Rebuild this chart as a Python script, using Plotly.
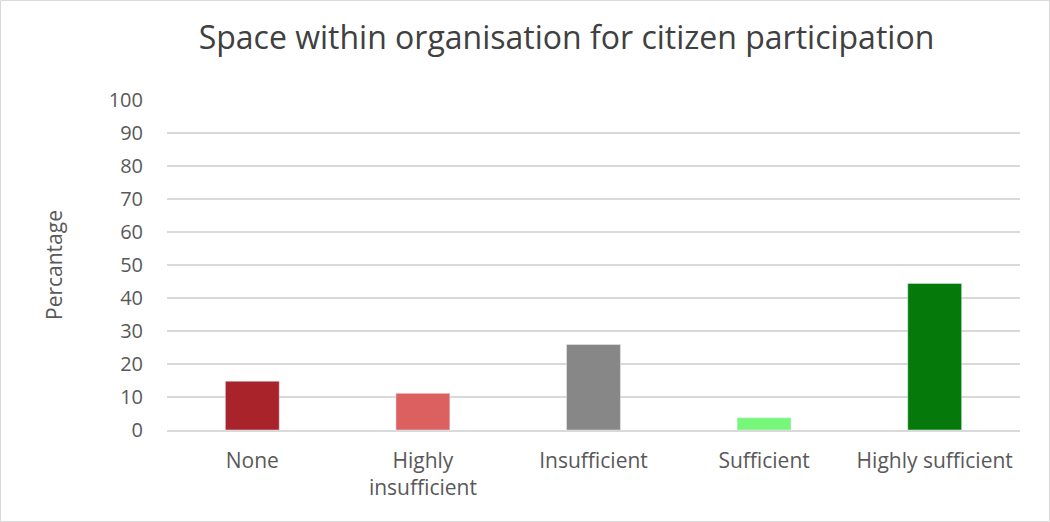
import plotly.graph_objects as go

categories = ["None", "Highly<br>insufficient", "Insufficient", "Sufficient", "Highly sufficient"]
values = [14.8, 11.1, 25.9, 3.7, 44.4]
colors = ["#A8242A", "#DC6060", "#878787", "#77F77A", "#057A0B"]
y_ticks = list(range(0, 101, 10))

W, H = 1050, 522
L, R, T, B = 167, 30, 100, 92

fig = go.Figure(go.Bar(x=categories, y=values, marker_color=colors, width=0.316))

fig.update_layout(
    width=W, height=H,
    margin=dict(l=L, r=R, t=T, b=B),
    paper_bgcolor="white", plot_bgcolor="white",
    font=dict(family="Open Sans", color="#595959", size=20),
    title=dict(text="Space within organisation for citizen participation",
               x=0.5395, xanchor="center", y=0.928, yanchor="middle",
               font=dict(size=32, color="#404040")),
    showlegend=False,
    bargap=0.684,
)
fig.update_yaxes(range=[0, 100], tickvals=y_ticks, showgrid=True, gridcolor="#D9D9D9",
                 gridwidth=1.5, zeroline=False, showline=False, ticks="",
                 ticklabelstandoff=23, tickfont=dict(size=20),
                 title=dict(text="Percantage", font=dict(size=21, color="#595959"), standoff=40))
fig.update_xaxes(showline=True, linecolor="#D9D9D9", linewidth=1.5, ticks="",
                 ticklabelstandoff=11, tickangle=0, tickfont=dict(size=21))

pw, ph = W - L - R, H - T - B
fig.add_shape(type="rect", xref="paper", yref="paper",
              x0=(-L + 0.5) / pw, x1=1 + (R - 0.5) / pw,
              y0=(-B + 0.5) / ph, y1=1 + (T - 0.5) / ph,
              line=dict(color="#D9D9D9", width=1), layer="below")

fig.write_html("out.html")
